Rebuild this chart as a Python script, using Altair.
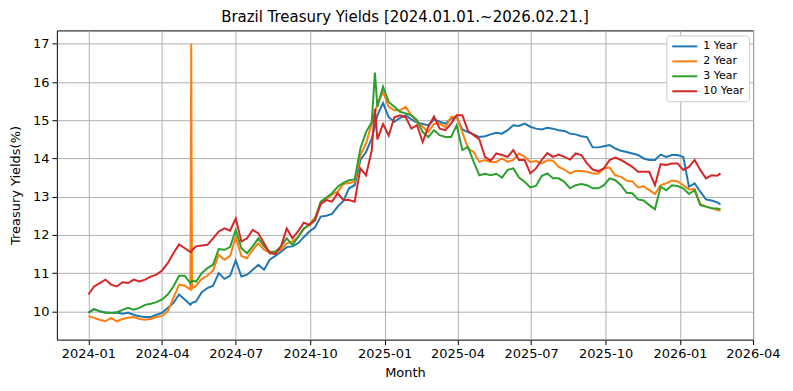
import altair as alt
import pandas as pd

dates = [
    "2024-01-01", "2024-01-08", "2024-01-15", "2024-01-22", "2024-01-29", "2024-02-05", "2024-02-12",
    "2024-02-19", "2024-02-26", "2024-03-04", "2024-03-11", "2024-03-18", "2024-03-25", "2024-04-01",
    "2024-04-08", "2024-04-15", "2024-04-22", "2024-04-29", "2024-05-06", "2024-05-07", "2024-05-08",
    "2024-05-13", "2024-05-20", "2024-05-27", "2024-06-03", "2024-06-10", "2024-06-17", "2024-06-24",
    "2024-07-01", "2024-07-08", "2024-07-15", "2024-07-22", "2024-07-29", "2024-08-05", "2024-08-12",
    "2024-08-19", "2024-08-26", "2024-09-02", "2024-09-09", "2024-09-16", "2024-09-23", "2024-09-30",
    "2024-10-07", "2024-10-14", "2024-10-21", "2024-10-28", "2024-11-04", "2024-11-11", "2024-11-18",
    "2024-11-25", "2024-12-02", "2024-12-09", "2024-12-16", "2024-12-20", "2024-12-23", "2024-12-30",
    "2025-01-06", "2025-01-13", "2025-01-20", "2025-01-27", "2025-02-03", "2025-02-10", "2025-02-17",
    "2025-02-24", "2025-03-03", "2025-03-10", "2025-03-17", "2025-03-24", "2025-03-31", "2025-04-07",
    "2025-04-14", "2025-04-21", "2025-04-28", "2025-05-05", "2025-05-12", "2025-05-19", "2025-05-26",
    "2025-06-02", "2025-06-09", "2025-06-16", "2025-06-23", "2025-06-30", "2025-07-07", "2025-07-14",
    "2025-07-21", "2025-07-28", "2025-08-04", "2025-08-11", "2025-08-18", "2025-08-25", "2025-09-01",
    "2025-09-08", "2025-09-15", "2025-09-22", "2025-09-29", "2025-10-06", "2025-10-13", "2025-10-20",
    "2025-10-27", "2025-11-03", "2025-11-10", "2025-11-17", "2025-11-24", "2025-12-01", "2025-12-08",
    "2025-12-15", "2025-12-22", "2025-12-29", "2026-01-05", "2026-01-12", "2026-01-19", "2026-01-26",
    "2026-02-02", "2026-02-09", "2026-02-16", "2026-02-20",
]

yield_1y = [
    9.97, 10.06, 10.0, 9.97, 9.96, 9.97, 9.94, 9.96, 9.91, 9.87, 9.85, 9.85, 9.91, 9.96, 10.09, 10.22, 10.44, 10.31, 10.17,
    10.2, 10.22,
    10.26, 10.5, 10.61, 10.67, 11.0, 10.85, 10.93, 11.33, 10.91, 10.96, 11.09, 11.22, 11.09, 11.35, 11.45, 11.56,
    11.68, 11.7, 11.78, 11.94, 12.09, 12.2, 12.48, 12.5, 12.55, 12.74, 12.89, 13.22, 13.3, 13.96, 14.17, 14.52,
    14.85,
    15.13, 15.45, 15.08, 14.96, 15.06, 15.13, 15.02, 14.94, 14.9, 14.87,
    15.02, 14.96, 14.91, 15.04, 15.08, 14.76, 14.69, 14.63, 14.56, 14.58,
    14.63, 14.67, 14.65, 14.74, 14.87, 14.85, 14.91, 14.83, 14.78, 14.76,
    14.8, 14.78, 14.74, 14.72, 14.65, 14.63, 14.58, 14.56, 14.29, 14.29,
    14.32, 14.35, 14.26, 14.2, 14.17, 14.13, 14.09, 14.0, 13.96, 13.96,
    14.1, 14.04, 14.09, 14.09, 14.04, 13.26, 13.35, 13.13, 12.93, 12.9,
    12.85, 12.8,
]

yield_2y = [
    9.87, 9.83, 9.78, 9.74, 9.83, 9.74, 9.8, 9.83, 9.85, 9.8, 9.78, 9.8, 9.85, 9.88, 10.0, 10.35, 10.7, 10.67, 10.57,
    17.0, 10.6,
    10.67, 10.85, 10.93, 11.07, 11.48, 11.35, 11.45, 11.94, 11.45, 11.39, 11.61, 11.78, 11.61, 11.54, 11.56, 11.61,
    11.78, 11.83, 11.94, 12.15, 12.28, 12.45, 12.81, 12.93, 13.06, 13.13, 13.33, 13.36, 13.39, 14.09, 14.39, 14.91,
    15.2,
    15.43, 15.74, 15.35, 15.26, 15.26, 15.35, 15.13, 14.96, 14.83, 14.69,
    14.91, 14.91, 14.82, 15.08, 15.1, 14.69, 14.26, 14.17, 13.91, 13.96,
    13.91, 13.91, 14.0, 13.91, 13.96, 14.13, 14.04, 13.91, 13.93, 13.87,
    13.95, 13.94, 13.78, 13.71, 13.61, 13.67, 13.67, 13.65, 13.61, 13.6,
    13.74, 13.76, 13.56, 13.52, 13.42, 13.4, 13.24, 13.27, 13.17, 13.07,
    13.3, 13.35, 13.42, 13.4, 13.3, 13.19, 13.2, 12.81, 12.74, 12.7,
    12.65, 12.63,
]

yield_3y = [
    9.96, 10.06, 10.0, 9.96, 9.96, 9.97, 10.04, 10.09, 10.04, 10.09, 10.17, 10.2, 10.24, 10.31, 10.44, 10.65, 10.93, 10.93, 10.74,
    10.78, 10.8,
    10.78, 11.0, 11.13, 11.22, 11.63, 11.61, 11.68, 12.13, 11.65, 11.52, 11.7, 11.91, 11.7, 11.56, 11.56, 11.7,
    11.91, 11.74, 11.94, 12.17, 12.26, 12.42, 12.87, 12.98, 13.09, 13.26, 13.36, 13.43, 13.45, 14.26, 14.69, 14.95,
    16.25,
    15.35, 15.88, 15.48, 15.35, 15.22, 15.18, 15.13, 15.0, 14.69, 14.56,
    14.74, 14.61, 14.56, 14.56, 14.87, 14.22, 14.3, 13.91, 13.56, 13.6,
    13.56, 13.6, 13.5, 13.7, 13.74, 13.5, 13.39, 13.24, 13.28, 13.54,
    13.61, 13.48, 13.48, 13.39, 13.22, 13.3, 13.33, 13.3, 13.22, 13.22,
    13.3, 13.48, 13.43, 13.3, 13.1, 13.09, 12.93, 12.9, 12.78, 12.67,
    13.26, 13.17, 13.3, 13.28, 13.22, 13.07, 13.17, 12.78, 12.74, 12.7,
    12.69, 12.67,
]

yield_10y = [
    10.44, 10.65, 10.74, 10.83, 10.7, 10.65, 10.76, 10.74, 10.83, 10.78, 10.83, 10.91, 10.96, 11.07, 11.26, 11.52, 11.75, 11.65, 11.55,
    11.55, 11.6,
    11.7, 11.72, 11.74, 11.91, 12.09, 12.17, 12.11, 12.43, 11.83, 11.91, 12.13, 12.04, 11.78, 11.52, 11.5, 11.7,
    12.17, 11.91, 12.09, 12.32, 12.26, 12.38, 12.81, 12.91, 12.87, 13.09, 12.91, 12.91, 12.87, 13.74, 13.56, 14.2,
    15.3,
    14.5, 14.9, 14.6, 15.08, 15.13, 15.08, 14.78, 14.87, 14.43, 14.83,
    15.1, 14.78, 14.74, 14.91, 15.13, 15.13, 14.72, 14.61, 14.5, 14.04,
    13.94, 14.13, 14.09, 14.04, 14.22, 13.96, 13.96, 13.61, 13.74, 13.96,
    14.14, 14.04, 14.1, 14.04, 13.97, 14.13, 14.09, 13.87, 13.71, 13.67,
    13.74, 13.96, 14.02, 13.96, 13.87, 13.78, 13.65, 13.65, 13.65, 13.3,
    13.85, 13.83, 13.87, 13.87, 13.7, 13.78, 13.96, 13.7, 13.48, 13.56,
    13.55, 13.61,
]

series_names = ["1 Year", "2 Year", "3 Year", "10 Year"]
series_colors = ["#1f77b4", "#ff7f0e", "#2ca02c", "#d62728"]
y_ticks = [10, 11, 12, 13, 14, 15, 16, 17]
x_ticks = [(2024, 1), (2024, 4), (2024, 7), (2024, 10), (2025, 1), (2025, 4),
           (2025, 7), (2025, 10), (2026, 1), (2026, 4)]

rows = []
for name, vals in zip(series_names, [yield_1y, yield_2y, yield_3y, yield_10y]):
    for d, v in zip(dates, vals):
        rows.append({"date": d, "series": name, "value": v})
df = pd.DataFrame(rows)

FONT = "DejaVu Sans"

chart = alt.Chart(df).mark_line(strokeWidth=2, clip=True).encode(
    x=alt.X(
        "date:T",
        title="Month",
        scale=alt.Scale(domain=[alt.DateTime(year=2023, month=11, date=23),
                                alt.DateTime(year=2026, month=4, date=1, hours=6)]),
        axis=alt.Axis(values=[alt.DateTime(year=y, month=m, date=1) for y, m in x_ticks],
                      format="%Y-%m", labelAngle=0, titlePadding=6,
                      labelOverlap=False, labelFlush=False, labelBound=False),
    ),
    y=alt.Y(
        "value:Q",
        title="Treasury Yields(%)",
        scale=alt.Scale(domain=[9.26, 17.35], nice=False, zero=False),
        axis=alt.Axis(values=y_ticks, format="d", titlePadding=10, labelOverlap=False),
    ),
    color=alt.Color(
        "series:N",
        scale=alt.Scale(domain=series_names, range=series_colors),
        sort=series_names,
        legend=alt.Legend(
            title=None, orient="none", legendX=611, legendY=5,
            fillColor="white", strokeColor="#cccccc", cornerRadius=3, padding=5,
            labelFontSize=11, labelFont=FONT, labelColor="black",
            symbolType="M-1,0H4", symbolSize=100, symbolStrokeWidth=2,
            labelOffset=20, rowPadding=4,
        ),
    ),
    order=alt.Order("date:T"),
).properties(
    width=698,
    height=310,
    padding={"left": 49, "top": 22, "right": 32, "bottom": 40},
    autosize=alt.AutoSizeParams(type="none"),
    title=alt.Title("Brazil Treasury Yields [2024.01.01.~2026.02.21.]",
                    fontSize=15, fontWeight="normal", font=FONT, color="black", offset=5),
).configure_view(
    stroke="black", strokeWidth=1
).configure_axis(
    grid=True, gridColor="#b0b0b0", gridWidth=1, domain=False,
    tickColor="black", tickSize=5, tickWidth=1,
    labelFont=FONT, labelFontSize=13, labelColor="black", labelPadding=3,
    titleFont=FONT, titleFontSize=13, titleColor="black", titleFontWeight="normal",
)

chart.save("out.html", embed_options={"renderer": "svg", "actions": False})
